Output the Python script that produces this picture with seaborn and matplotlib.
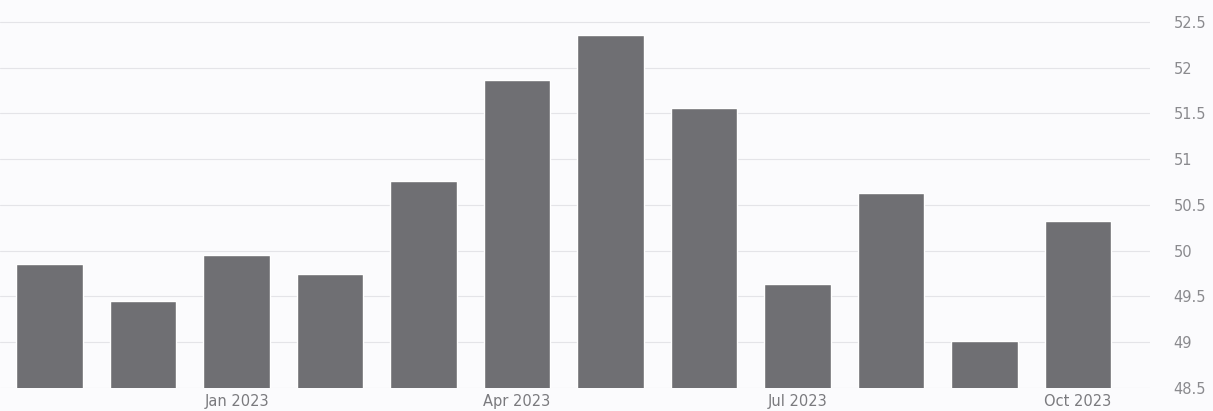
import matplotlib
matplotlib.use("Agg")
import matplotlib.pyplot as plt
import seaborn as sns
import numpy as np

# Monthly values, Nov 2022 - Oct 2023
months = ['Nov 2022', 'Dec 2022', 'Jan 2023', 'Feb 2023', 'Mar 2023', 'Apr 2023',
          'May 2023', 'Jun 2023', 'Jul 2023', 'Aug 2023', 'Sep 2023', 'Oct 2023']
values = [49.85, 49.45, 49.95, 49.75, 50.76, 51.87,
          52.36, 51.56, 49.64, 50.63, 49.01, 50.32]
tick_months = ['Jan 2023', 'Apr 2023', 'Jul 2023', 'Oct 2023']
y_ticks = [48.5, 49, 49.5, 50, 50.5, 51, 51.5, 52, 52.5]

sns.set_style('white')
plt.rcParams['font.family'] = ['DejaVu Sans']

fig = plt.figure(figsize=(12.13, 4.11), dpi=100)
fig.patch.set_facecolor('#fbfbfd')
ax = fig.add_axes([0.0, 0.056, 0.948, 0.944])
ax.set_facecolor('#fbfbfd')

sns.barplot(x=months, y=values, order=months, color='#6f6f73', width=0.71,
            saturation=1, ax=ax, zorder=2)

# axis limits and ticks
ax.set_ylim(48.5, 52.74)
ax.set_xlim(-0.53, 11.77)
ax.set_yticks(y_ticks)
ax.set_yticklabels(['{:g}'.format(t) for t in y_ticks])
ax.yaxis.tick_right()
ax.set_xticks([months.index(m) for m in tick_months])
ax.set_xticklabels(tick_months)
ax.tick_params(axis='y', length=0, pad=17, labelsize=10.5, labelcolor='#8a8a8e')
ax.tick_params(axis='x', length=0, pad=4, labelsize=10.5, labelcolor='#7a7a7e')
ax.set_xlabel('')
ax.set_ylabel('')

ax.grid(axis='y', color='#e4e4e8', lw=0.8, zorder=0)
sns.despine(ax=ax, left=True, bottom=True, right=True, top=True)

fig.savefig('out.png', dpi=100, facecolor=fig.get_facecolor())
